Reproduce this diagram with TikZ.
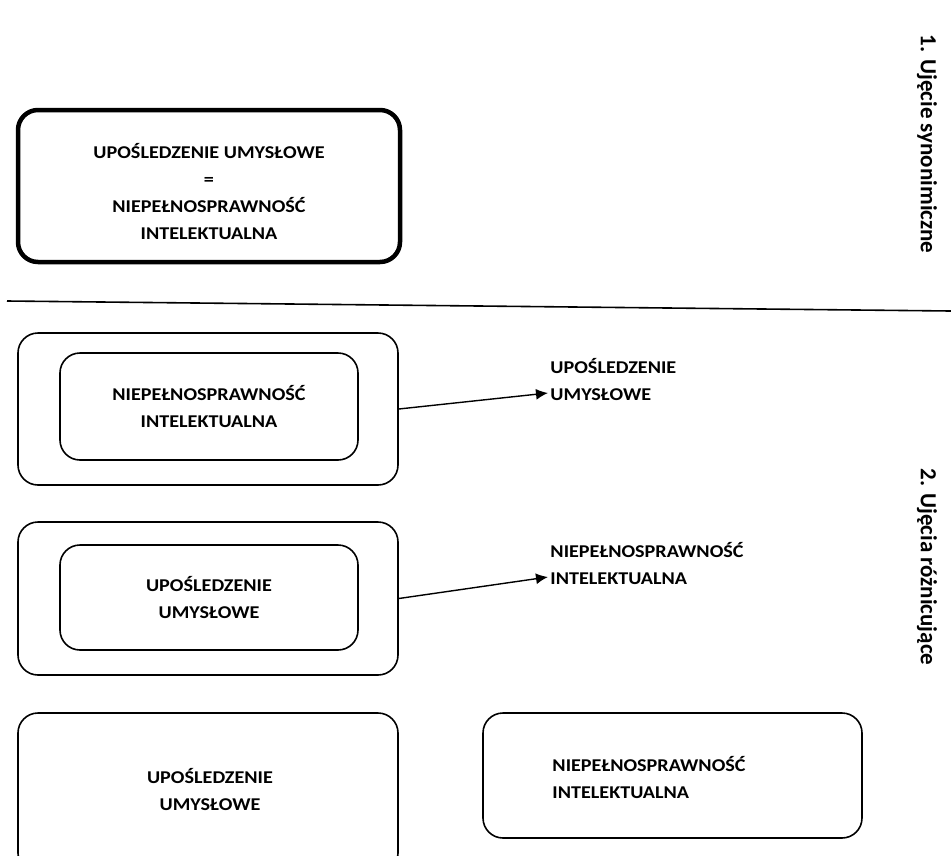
\documentclass[tikz,border=0pt]{standalone}
\usepackage{fontspec}
\setmainfont{Carlito}
\usetikzlibrary{arrows.meta}
\begin{document}
\begin{tikzpicture}[x=1pt,y=-1pt,
  box/.style={draw, line width=1.6pt, rounded corners=20pt, inner sep=0pt},
  thickbox/.style={draw, line width=4.5pt, rounded corners=20pt, inner sep=0pt},
  txt/.style={font=\bfseries\fontsize{18}{27}\selectfont, inner sep=2pt, xscale=1.12},
  side/.style={font=\bfseries\fontsize{23}{27}\selectfont, rotate=-90},
  link/.style={line width=1.4pt, -{Latex[length=12pt,width=11pt]}}]
\useasboundingbox (0,0) rectangle (951,855);
\clip (0,0) rectangle (951,855);

% section 1
\node[thickbox, minimum width=382pt, minimum height=152pt] (syn) at (209,186) {};
\node[txt, align=center] (syntxt) at (209,192) {UPOŚLEDZENIE UMYSŁOWE\\=\\NIEPEŁNOSPRAWNOŚĆ\\INTELEKTUALNA};
\node[side] (lab1) at (927,144) {1. Ujęcie synonimiczne};

% separator
\coordinate (sepL) at (7,301);
\coordinate (sepR) at (951,311);
\draw[line width=1.6pt] (sepL) -- (sepR);

% section 2
\node[side] (lab2) at (927,567) {2. Ujęcia różnicujące};

\node[box, minimum width=380pt, minimum height=152pt] (outA) at (208,409) {};
\node[box, minimum width=298pt, minimum height=107pt] (inA) at (209,406.5) {};
\node[txt, align=center] at (inA) {NIEPEŁNOSPRAWNOŚĆ\\INTELEKTUALNA};
\node[txt, align=left, anchor=west] (tgtA) at (548,379) {UPOŚLEDZENIE\\UMYSŁOWE};
\draw[link] (outA.east) -- ([yshift=-14pt]tgtA.west);

\node[box, minimum width=380pt, minimum height=153pt] (outB) at (208,598.5) {};
\node[box, minimum width=298pt, minimum height=105pt] (inB) at (209,597.5) {};
\node[txt, align=center] at (inB) {UPOŚLEDZENIE\\UMYSŁOWE};
\node[txt, align=left, anchor=west] (tgtB) at (548,563) {NIEPEŁNOSPRAWNOŚĆ\\INTELEKTUALNA};
\draw[link] (outB.east) -- ([yshift=-14pt]tgtB.west);

\node[box, minimum width=380pt, minimum height=160pt] (sepA) at (208,793) {};
\node[txt, align=center] at (210,789) {UPOŚLEDZENIE\\UMYSŁOWE};
\node[box, minimum width=379pt, minimum height=125pt] (sepB) at (672.5,775.5) {};
\node[txt, align=left, anchor=west] at (550,777) {NIEPEŁNOSPRAWNOŚĆ\\INTELEKTUALNA};
\end{tikzpicture}
\end{document}
